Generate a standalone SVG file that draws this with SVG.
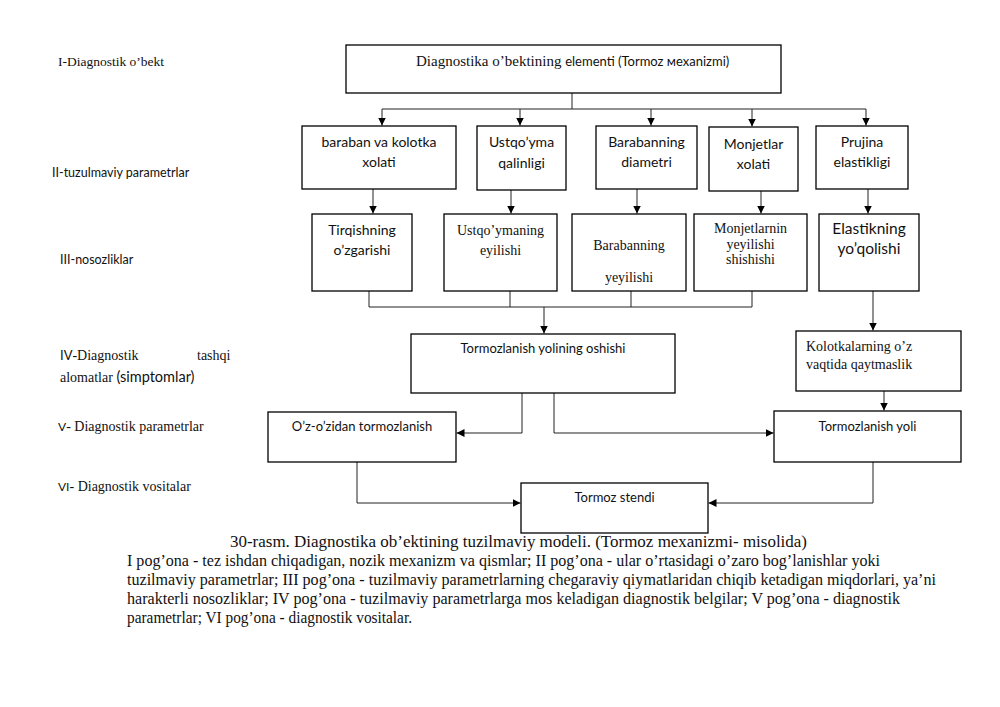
<svg xmlns="http://www.w3.org/2000/svg" width="1000" height="707" viewBox="0 0 1000 707">
<defs>
<marker id="ah" markerUnits="userSpaceOnUse" markerWidth="8" markerHeight="8" refX="8" refY="4" orient="auto">
<path d="M0,0 L8,4 L0,8 z" fill="#000"/>
</marker>
<style>
.box{fill:#fff;stroke:#000;stroke-width:1.3}
.ln{fill:none;stroke:#222;stroke-width:1}
.ar{fill:none;stroke:#222;stroke-width:1;marker-end:url(#ah)}
.sans{font-family:Lato,"Liberation Sans",sans-serif;fill:#111}
.serif{font-family:"Liberation Serif","DejaVu Serif",serif;fill:#111}
.c{text-anchor:middle}
</style>
</defs>
<rect width="1000" height="707" fill="#fff"/>

<g id="labels">
<text class="serif" x="58" y="66" font-size="13.5">I-Diagnostik o’bekt</text>
<text class="sans" x="52" y="177" font-size="12.5">II-tuzulmaviy parametrlar</text>
<text class="sans" x="60" y="264" font-size="12.5">III-nosozliklar</text>
<text class="serif" x="60" y="360" font-size="14"><tspan class="sans" font-size="13">IV</tspan>-Diagnostik</text>
<text class="serif" x="197" y="360" font-size="14">tashqi</text>
<text class="serif" x="60" y="382" font-size="14">alomatlar  <tspan class="sans" font-size="14.5">(simptomlar)</tspan></text>
<text class="serif" x="58" y="431" font-size="14"><tspan class="sans" font-size="12">V</tspan>- Diagnostik parametrlar</text>
<text class="serif" x="58" y="491" font-size="14"><tspan class="sans" font-size="12">VI</tspan>- Diagnostik vositalar</text>
</g>

<g id="connectors">
<path class="ln" d="M572,93 V109 M382,109 H866"/>
<path class="ar" d="M382,109 V125.5"/>
<path class="ar" d="M520,109 V125.5"/>
<path class="ar" d="M651,109 V125.5"/>
<path class="ar" d="M752,109 V126.5"/>
<path class="ar" d="M866,109 V125.5"/>
<path class="ar" d="M373,189 V213.5"/>
<path class="ar" d="M511,190 V213.5"/>
<path class="ar" d="M637,189 V213.5"/>
<path class="ar" d="M761,191 V213.5"/>
<path class="ar" d="M868,189 V213.5"/>
<path class="ln" d="M369,291 V307 M510,291 V307 M631,291 V307 M752,291 V307 M369,307 H752"/>
<path class="ar" d="M544,307 V333.5"/>
<path class="ar" d="M873,291 V330.5"/>
<path class="ar" d="M884,391 V410.5"/>
<path class="ar" d="M522,393 V433 H456.5"/>
<path class="ar" d="M554,393 V433 H773.5"/>
<path class="ar" d="M357,462 V503 H520.5"/>
<path class="ar" d="M873,462 V503 H708.5"/>
</g>

<g id="n-top">
<rect class="box" x="346" y="45" width="435" height="48"/>
<text x="416" y="66" font-size="14"><tspan class="serif" font-size="15">Diagnostika o’bektining </tspan><tspan class="sans" font-size="13">elementi (Tormoz мexanizmi)</tspan></text>
</g>

<g id="n-baraban">
<rect class="box" x="302" y="126" width="154" height="63"/>
<text class="sans c" x="379" y="147" font-size="14">baraban va kolotka</text>
<text class="sans c" x="379" y="167" font-size="14">xolati</text>
</g>
<g id="n-ustqoyma">
<rect class="box" x="477" y="126" width="89" height="64"/>
<text class="sans c" x="521.5" y="147" font-size="14">Ustqo’yma</text>
<text class="sans c" x="521.5" y="168" font-size="14">qalinligi</text>
</g>
<g id="n-barabanning">
<rect class="box" x="596" y="126" width="101" height="63"/>
<text class="sans c" x="646.5" y="147" font-size="14">Barabanning</text>
<text class="sans c" x="646.5" y="167" font-size="14">diametri</text>
</g>
<g id="n-monjetlar">
<rect class="box" x="709" y="127" width="89" height="64"/>
<text class="sans c" x="753.5" y="149" font-size="14">Monjetlar</text>
<text class="sans c" x="753.5" y="169" font-size="14">xolati</text>
</g>
<g id="n-prujina">
<rect class="box" x="816" y="126" width="92" height="63"/>
<text class="sans c" x="862" y="147" font-size="14">Prujina</text>
<text class="sans c" x="862" y="167" font-size="14">elastikligi</text>
</g>

<g id="n-tirqish">
<rect class="box" x="312" y="214" width="100" height="77"/>
<text class="sans c" x="362" y="235" font-size="14">Tirqishning</text>
<text class="sans c" x="362" y="255" font-size="14">o’zgarishi</text>
</g>
<g id="n-ustqoymaning">
<rect class="box" x="444" y="214" width="113" height="77"/>
<text class="serif c" x="500.5" y="235" font-size="14">Ustqo’ymaning</text>
<text class="serif c" x="500.5" y="255" font-size="14">eyilishi</text>
</g>
<g id="n-barabanyey">
<rect class="box" x="572" y="214" width="114" height="77"/>
<text class="serif c" x="629" y="250" font-size="14">Barabanning</text>
<text class="serif c" x="629" y="282" font-size="14">yeyilishi</text>
</g>
<g id="n-monjetlarnin">
<rect class="box" x="694" y="214" width="113" height="77"/>
<text class="serif c" x="750.5" y="233" font-size="14">Monjetlarnin</text>
<text class="serif c" x="750.5" y="249" font-size="14">yeyilishi</text>
<text class="serif c" x="750.5" y="264" font-size="14">shishishi</text>
</g>
<g id="n-elastik">
<rect class="box" x="819" y="214" width="100" height="77"/>
<text class="sans c" x="869" y="234" font-size="15.5">Elastikning</text>
<text class="sans c" x="869" y="254" font-size="15.5">yo’qolishi</text>
</g>

<g id="n-yoloshishi">
<rect class="box" x="411" y="334" width="264" height="59"/>
<text class="sans c" x="543" y="353" font-size="13">Tormozlanish yolining oshishi</text>
</g>
<g id="n-kolotka">
<rect class="box" x="796" y="331" width="165" height="60"/>
<text class="serif" x="806" y="351" font-size="14">Kolotkalarning o’z</text>
<text class="serif" x="806" y="369" font-size="14">vaqtida qaytmaslik</text>
</g>
<g id="n-ozozidan">
<rect class="box" x="268" y="412" width="188" height="50"/>
<text class="sans c" x="362" y="431" font-size="13">O’z-o’zidan tormozlanish</text>
</g>
<g id="n-yoli">
<rect class="box" x="774" y="411" width="187" height="51"/>
<text class="sans c" x="867.5" y="431" font-size="13">Tormozlanish yoli</text>
</g>
<g id="n-stend">
<rect class="box" x="521" y="483" width="187" height="50"/>
<text class="sans c" x="614.5" y="502" font-size="13">Tormoz stendi</text>
</g>

<g id="caption" class="serif" font-size="16">
<text x="230" y="547" textLength="577" lengthAdjust="spacingAndGlyphs">30-rasm. Diagnostika ob’ektining tuzilmaviy modeli. (Tormoz mexanizmi- misolida)</text>
<text x="127" y="566" textLength="753" lengthAdjust="spacingAndGlyphs">I pog’ona - tez ishdan chiqadigan, nozik mexanizm va qismlar; II pog’ona - ular o’rtasidagi o’zaro bog’lanishlar yoki</text>
<text x="127" y="585" textLength="809" lengthAdjust="spacingAndGlyphs">tuzilmaviy parametrlar; III pog’ona - tuzilmaviy parametrlarning chegaraviy qiymatlaridan chiqib ketadigan miqdorlari, ya’ni</text>
<text x="127" y="604" textLength="773" lengthAdjust="spacingAndGlyphs">harakterli nosozliklar; IV pog’ona - tuzilmaviy parametrlarga mos keladigan diagnostik belgilar; V pog’ona - diagnostik</text>
<text x="127" y="623" textLength="285" lengthAdjust="spacingAndGlyphs">parametrlar; VI pog’ona - diagnostik vositalar.</text>
</g>
</svg>
